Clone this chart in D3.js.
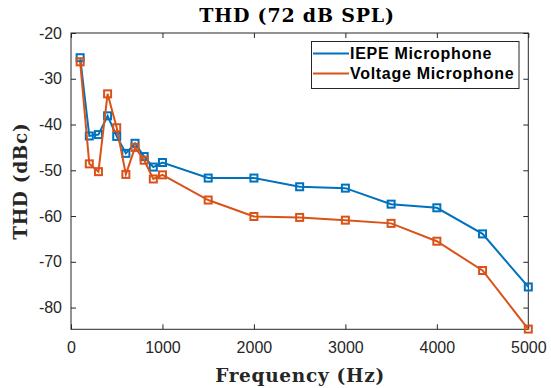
<!DOCTYPE html>
<html><head><meta charset="utf-8">
<script src="https://cdn.jsdelivr.net/npm/d3@7"></script>
<style>body{margin:0;background:#fff}svg{display:block}</style>
</head><body>
<script>
const freqs = [100,200,300,400,500,600,700,800,900,1000,1500,2000,2500,3000,3500,4000,4500,5000];
const iepe = [-25.4,-42.5,-42.2,-38.1,-42.6,-46.3,-44.1,-47.0,-49.3,-48.3,-51.7,-51.7,-53.6,-53.9,-57.4,-58.2,-63.9,-75.5];
const voltage = [-26.3,-48.6,-50.3,-33.3,-40.7,-50.9,-45.0,-47.8,-51.9,-51.0,-56.5,-60.1,-60.3,-60.9,-61.6,-65.5,-71.9,-84.7];
const seriesNames = ["IEPE Microphone","Voltage Microphone"];
const colors = ["#0072BD","#D95319"];
const xTicks = [0,1000,2000,3000,4000,5000];
const yTicks = [-80,-70,-60,-50,-40,-30,-20];

const W=551,H=388;
const m={left:71,right:551-528.3,top:33,bottom:388-329.3};
const svg=d3.select("body").append("svg").attr("width",W).attr("height",H);
const x=d3.scaleLinear().domain([0,5000]).range([m.left,W-m.right]);
const y=d3.scaleLinear().domain([-84.75,-20]).range([H-m.bottom,m.top]);
const axisColor="#262626";
const tickFont="'Liberation Sans', Arial, sans-serif";
const fmt=d=>String(d);

function styleAxis(g){g.select(".domain").remove();
 g.selectAll(".tick line").attr("stroke",axisColor);
 g.selectAll(".tick text").attr("fill",axisColor).style("font-family",tickFont).style("font-size","16px");}

svg.append("g").attr("transform",`translate(0,${y.range()[0]})`)
 .call(d3.axisBottom(x).tickValues(xTicks).tickSize(-5).tickPadding(12).tickFormat(fmt))
 .call(styleAxis);
svg.append("g").attr("transform",`translate(0,${m.top})`)
 .call(d3.axisTop(x).tickValues(xTicks).tickSize(-5).tickFormat(""))
 .call(styleAxis);
svg.append("g").attr("transform",`translate(${m.left},0)`)
 .call(d3.axisLeft(y).tickValues(yTicks).tickSize(-5).tickPadding(9).tickFormat(fmt))
 .call(styleAxis);
svg.append("g").attr("transform",`translate(${W-m.right},0)`)
 .call(d3.axisRight(y).tickValues(yTicks).tickSize(-5).tickFormat(""))
 .call(styleAxis);
svg.append("rect").attr("x",x.range()[0]).attr("y",y.range()[1]).attr("width",x.range()[1]-x.range()[0])
 .attr("height",y.range()[0]-y.range()[1]).attr("fill","none").attr("stroke",axisColor).attr("stroke-width",1);

const data=[iepe,voltage];
const line=d3.line().x((d,i)=>x(freqs[i])).y(d=>y(d));
data.forEach((vals,k)=>{
 svg.append("path").datum(vals).attr("d",line).attr("fill","none").attr("stroke",colors[k]).attr("stroke-width",2);
 svg.append("g").selectAll("rect").data(vals).join("rect")
  .attr("x",(d,i)=>x(freqs[i])-3.5).attr("y",d=>y(d)-3.5).attr("width",7).attr("height",7)
  .attr("fill","none").attr("stroke",colors[k]).attr("stroke-width",2);
});

// title and labels
const serif="'DejaVu Serif', 'Liberation Serif', serif";
svg.append("text").attr("x",297).attr("y",22).attr("text-anchor","middle")
 .style("font-family",serif).style("font-weight","bold").style("font-size","19px").style("letter-spacing","0.8px").attr("fill","#000").text("THD (72 dB SPL)");
svg.append("text").attr("x",300).attr("y",381.5).attr("text-anchor","middle")
 .style("font-family",serif).style("font-weight","bold").style("font-size","18.5px").style("letter-spacing","0.7px").attr("fill","#262626").text("Frequency (Hz)");
svg.append("text").attr("transform",`translate(27,${(m.top+H-m.bottom)/2}) rotate(-90)`).attr("text-anchor","middle")
 .style("font-family",serif).style("font-weight","bold").style("font-size","18.5px").style("letter-spacing","0.7px").attr("fill","#262626").text("THD (dBc)");

// legend
const lg=svg.append("g");
lg.append("rect").attr("x",311.5).attr("y",41.5).attr("width",207.5).attr("height",47).attr("fill","#fff").attr("stroke",axisColor).attr("stroke-width",1);
seriesNames.forEach((n,k)=>{
 const yy=53.5+k*20;
 lg.append("line").attr("x1",313).attr("x2",349).attr("y1",yy).attr("y2",yy).attr("stroke",colors[k]).attr("stroke-width",2);
 lg.append("text").attr("x",350).attr("y",yy+5.8).style("font-family",tickFont).style("font-weight","bold").style("font-size","16px").style("letter-spacing","0.7px").attr("fill","#000").text(n);
});
</script>
</body></html>
